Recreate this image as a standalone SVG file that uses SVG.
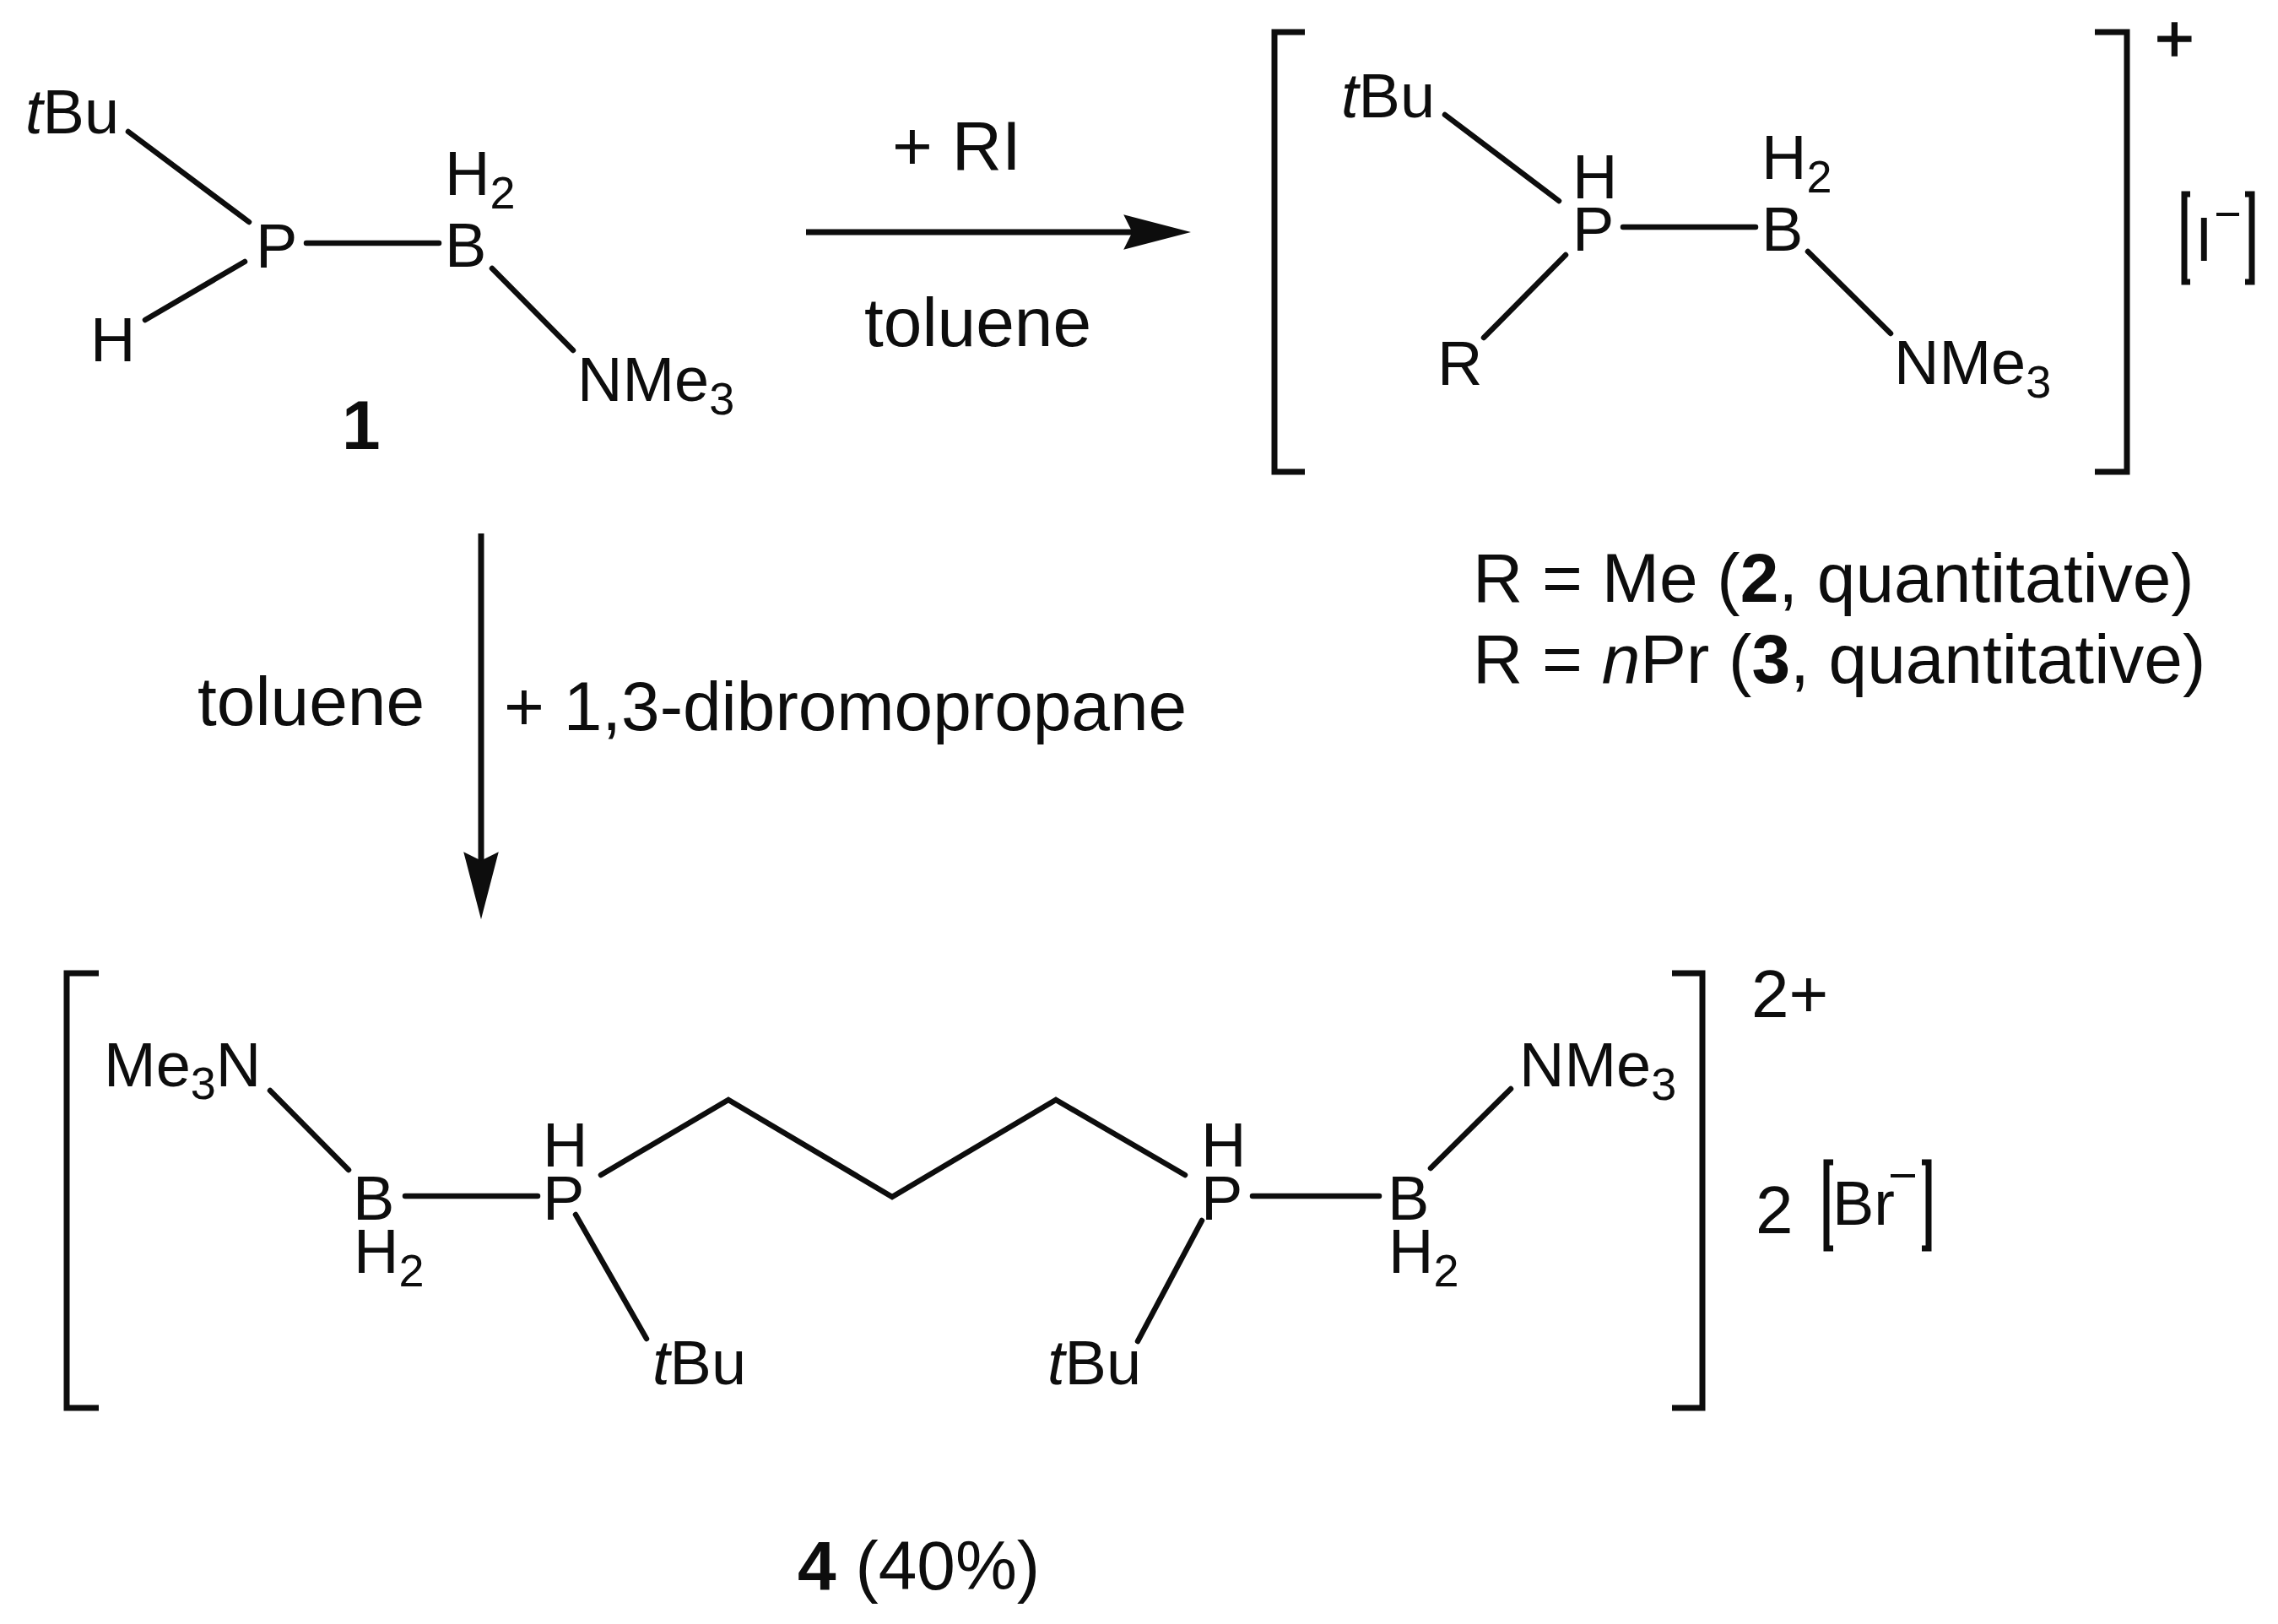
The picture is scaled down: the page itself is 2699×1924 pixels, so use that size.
<svg xmlns="http://www.w3.org/2000/svg" width="2699" height="1924" viewBox="0 0 2699 1924">
<style>
text{font-family:"Liberation Sans",Arial,sans-serif;fill:#0d0d0d}
.a{font-size:74px}
.r{font-size:82px}
.c{font-size:80px}
.s{font-size:54px}
.b{font-weight:bold}
.i{font-style:italic}
.l{fill:none;stroke:#0d0d0d;stroke-width:6.5;stroke-linecap:round;stroke-linejoin:miter}
.w{fill:none;stroke:#0d0d0d;stroke-width:7}
.k{fill:none;stroke:#0d0d0d;stroke-width:7}
.m{fill:none;stroke:#0d0d0d;stroke-width:4}
</style>
<defs>
<marker id="h" markerUnits="userSpaceOnUse" markerWidth="80" markerHeight="44" viewBox="0 0 77 40" refX="47" refY="20" orient="auto"><path d="M0 0L77 20L0 40L10 20Z" fill="#0d0d0d"/></marker>
</defs>
<rect width="2699" height="1924" fill="#fff"/>
<g id="connectors">
<path class="l" d="M152 156L295 263M290 310L172 379M363 288H520M583 318L679 415"/>
<path class="l" d="M1712 136L1847 238M1923 269H2080M1855 302L1758 400M2142 298L2240 395"/>
<path class="l" d="M320 1292L413 1386M480 1417H637M712 1392L863 1303L1057 1418L1251 1303L1404 1392M682 1439L766 1586M1484 1417H1634M1695 1384L1790 1290M1424 1446L1348 1589"/>
<path class="w" d="M955 275H1380" marker-end="url(#h)"/>
<path class="w" d="M570 632V1058" marker-end="url(#h)"/>
</g>
<g id="compound-1">
<text class="a" x="30" y="158"><tspan class="i">t</tspan>Bu</text>
<text class="a" x="527" y="231">H<tspan class="s" dy="16">2</tspan></text>
<text class="a" x="303" y="317">P</text>
<text class="a" x="527" y="316">B</text>
<text class="a" x="107" y="428">H</text>
<text class="a" x="684" y="475">NMe<tspan class="s" dy="16">3</tspan></text>
<text class="r b" x="405" y="532">1</text>
</g>
<g id="reaction-1-labels">
<text class="r" x="1057" y="201">+ RI</text>
<text class="r" x="1024" y="410">toluene</text>
</g>
<g id="compound-2-3">
<path class="k" d="M1546 38H1510V559H1546M2482 38H2520V559H2482"/>
<text class="a" x="1589" y="139"><tspan class="i">t</tspan>Bu</text>
<text class="a" x="1863" y="235">H</text>
<text class="a" x="1863" y="297">P</text>
<text class="a" x="2087" y="212">H<tspan class="s" dy="16">2</tspan></text>
<text class="a" x="2087" y="297">B</text>
<text class="a" x="1703" y="456">R</text>
<text class="a" x="2244" y="455">NMe<tspan class="s" dy="16">3</tspan></text>
<text class="c" x="2553" y="73" style="stroke:#0d0d0d;stroke-width:1.5">+</text>
<path class="k" d="M2595 230H2588V334H2595M2660 230H2668V334H2660"/>
<text class="a" x="2601" y="309">I</text>
<path class="m" d="M2626 254H2653"/>
</g>
<g id="results">
<text class="r" x="1745" y="713">R = Me (<tspan class="b">2</tspan>, quantitative)</text>
<text class="r" x="1745" y="809">R = <tspan class="i">n</tspan>Pr (<tspan class="b">3</tspan>, quantitative)</text>
</g>
<g id="reaction-2-labels">
<text class="r" x="234" y="859">toluene</text>
<text class="r" x="597" y="865">+ 1,3-dibromopropane</text>
</g>
<g id="compound-4">
<path class="k" d="M117 1153H79V1668H117M1981 1153H2017V1668H1981"/>
<text class="a" x="123" y="1287">Me<tspan class="s" dy="15">3</tspan><tspan dy="-15">N</tspan></text>
<text class="a" x="418" y="1445">B</text>
<text class="a" x="419" y="1508">H<tspan class="s" dy="16">2</tspan></text>
<text class="a" x="643" y="1382">H</text>
<text class="a" x="643" y="1445">P</text>
<text class="a" x="773" y="1640"><tspan class="i">t</tspan>Bu</text>
<text class="a" x="1423" y="1382">H</text>
<text class="a" x="1423" y="1445">P</text>
<text class="a" x="1644" y="1445">B</text>
<text class="a" x="1645" y="1508">H<tspan class="s" dy="16">2</tspan></text>
<text class="a" x="1800" y="1287">NMe<tspan class="s" dy="16">3</tspan></text>
<text class="a" x="1241" y="1640"><tspan class="i">t</tspan>Bu</text>
<text class="c" x="2075" y="1205">2+</text>
<text class="c" x="2080" y="1461">2</text>
<path class="k" d="M2172 1377H2164V1479H2172M2277 1377H2285V1479H2277"/>
<text class="a" x="2171" y="1451">Br</text>
<path class="m" d="M2240 1393H2269"/>
</g>
<g id="yield-4">
<text class="r" x="945" y="1883"><tspan class="b">4</tspan> (40%)</text>
</g>
</svg>
